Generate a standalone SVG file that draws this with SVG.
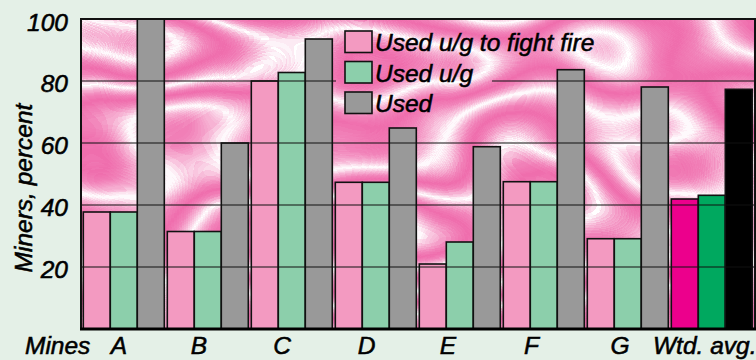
<svg xmlns="http://www.w3.org/2000/svg" width="756" height="360" viewBox="0 0 756 360">
<style>
.t{font-family:"Liberation Sans",Arial,Helvetica,sans-serif;font-style:italic;font-weight:normal;font-size:24.5px;fill:#000;stroke:#000;stroke-width:0.55}
.bar{stroke:#111;stroke-width:1.6}
.p{fill:#f39ac1}.g{fill:#8ccfab}.y{fill:#999999}
.pm{fill:#ec008c}.gm{fill:#00a85f}.k{fill:#000}
.grid{stroke:#111;stroke-width:1.2;fill:none}
</style>
<defs>
<filter id="marble" x="81" y="19" width="674" height="310" filterUnits="userSpaceOnUse" color-interpolation-filters="sRGB">
<feTurbulence type="fractalNoise" baseFrequency="0.0045 0.007" numOctaves="2" seed="5" result="n"/>
<feColorMatrix in="n" type="matrix" values="1 0 0 0 0 1 0 0 0 0 1 0 0 0 0 0 0 0 0 1"/>
<feComponentTransfer>
<feFuncR type="table" tableValues="1 .97 .949 .94 .949 .97 1 .97 .949 .94 .949 .97 1 .97 .949 .94 .949 .97 1 .97 .949 .94 .949 .97 1 .97 .949 .94 .949 .97 1 .97 .949 .94 .949 .97 1"/>
<feFuncG type="table" tableValues="1 .715 .516 .43 .516 .715 1 .715 .516 .43 .516 .715 1 .715 .516 .43 .516 .715 1 .715 .516 .43 .516 .715 1 .715 .516 .43 .516 .715 1 .715 .516 .43 .516 .715 1"/>
<feFuncB type="table" tableValues="1 .84 .728 .68 .728 .84 1 .84 .728 .68 .728 .84 1 .84 .728 .68 .728 .84 1 .84 .728 .68 .728 .84 1 .84 .728 .68 .728 .84 1 .84 .728 .68 .728 .84 1"/>
</feComponentTransfer>
</filter>
</defs>
<rect x="0" y="0" width="756" height="360" fill="#e4f0e7"/>
<g id="plot">
<rect x="81" y="19" width="674" height="310" fill="#fff" filter="url(#marble)"/>
</g>
<g id="mine-A">
<rect class="bar p" x="83.3" y="212" width="27" height="117"/>
<rect class="bar g" x="110.3" y="212" width="27" height="117"/>
<rect class="bar y" x="137.3" y="19" width="27" height="310"/>
</g>
<g id="mine-B">
<rect class="bar p" x="167.3" y="231.5" width="27" height="97.5"/>
<rect class="bar g" x="194.3" y="231.5" width="27" height="97.5"/>
<rect class="bar y" x="221.3" y="143" width="27" height="186"/>
</g>
<g id="mine-C">
<rect class="bar p" x="251.3" y="81" width="27" height="248"/>
<rect class="bar g" x="278.3" y="72.5" width="27" height="256.5"/>
<rect class="bar y" x="305.3" y="39" width="27" height="290"/>
</g>
<g id="mine-D">
<rect class="bar p" x="335.3" y="182.3" width="27" height="146.7"/>
<rect class="bar g" x="362.3" y="182.3" width="27" height="146.7"/>
<rect class="bar y" x="389.3" y="128" width="27" height="201"/>
</g>
<g id="mine-E">
<rect class="bar p" x="419.3" y="264" width="27" height="65"/>
<rect class="bar g" x="446.3" y="242" width="27" height="87"/>
<rect class="bar y" x="473.3" y="146.7" width="27" height="182.3"/>
</g>
<g id="mine-F">
<rect class="bar p" x="503.3" y="181.7" width="27" height="147.3"/>
<rect class="bar g" x="530.3" y="181.7" width="27" height="147.3"/>
<rect class="bar y" x="557.3" y="69.7" width="27" height="259.3"/>
</g>
<g id="mine-G">
<rect class="bar p" x="587.3" y="238.7" width="27" height="90.3"/>
<rect class="bar g" x="614.3" y="238.7" width="27" height="90.3"/>
<rect class="bar y" x="641.3" y="87" width="27" height="242"/>
</g>
<g id="wtd-avg">
<rect class="bar pm" x="671.3" y="199" width="27" height="130"/>
<rect class="bar gm" x="698.3" y="195.3" width="27" height="133.7"/>
<rect class="bar k" x="725.3" y="89.3" width="27" height="239.7"/>
</g>
<g id="gridlines">
<path class="grid" d="M81 81H336M492 81H755M81 143H755M81 205H755M81 267H755"/>
</g>
<g id="frame">
<rect x="81" y="19" width="674" height="310" fill="none" stroke="#111" stroke-width="2"/>
<line x1="80" y1="329" x2="756" y2="329" stroke="#000" stroke-width="3"/>
</g>
<g id="legend">
<rect class="bar p" x="345" y="31" width="27" height="21.5"/>
<rect class="bar g" x="345" y="61.5" width="27" height="21.5"/>
<rect class="bar y" x="345" y="92" width="27" height="21.5"/>
<text class="t" x="375" y="51">Used u/g to fight fire</text>
<text class="t" x="375" y="81.5">Used u/g</text>
<text class="t" x="375" y="112">Used</text>
</g>
<g id="y-axis">
<text class="t" x="68" y="31" text-anchor="end">100</text>
<text class="t" x="68" y="92" text-anchor="end">80</text>
<text class="t" x="68" y="154" text-anchor="end">60</text>
<text class="t" x="68" y="216" text-anchor="end">40</text>
<text class="t" x="68" y="278" text-anchor="end">20</text>
<text class="t" text-anchor="middle" transform="translate(32,188) rotate(-90)">Miners, percent</text>
</g>
<g id="x-axis">
<text class="t" x="25" y="354">Mines</text>
<text class="t" x="119" y="354" text-anchor="middle">A</text>
<text class="t" x="199" y="354" text-anchor="middle">B</text>
<text class="t" x="282" y="354" text-anchor="middle">C</text>
<text class="t" x="366.5" y="354" text-anchor="middle">D</text>
<text class="t" x="448" y="354" text-anchor="middle">E</text>
<text class="t" x="531.5" y="354" text-anchor="middle">F</text>
<text class="t" x="620" y="354" text-anchor="middle">G</text>
<text class="t" x="653" y="354">Wtd. avg.</text>
</g>
</svg>
